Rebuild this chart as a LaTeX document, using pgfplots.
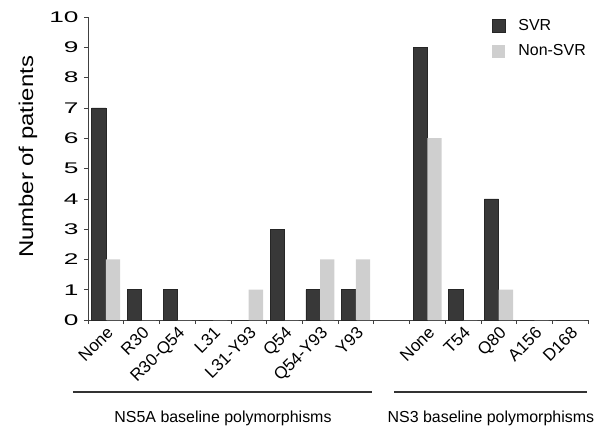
\documentclass[border=0pt]{standalone}
\usepackage{fontspec}
\setmainfont{Liberation Sans}
\newfontfamily\tickfont[FakeStretch=1.7]{Liberation Sans}
\newfontfamily\labelfont[FakeStretch=1.2]{Liberation Sans}
\usepackage{pgfplots}
\pgfplotsset{compat=1.18}
\definecolor{svr}{HTML}{383838}
\definecolor{nonsvr}{HTML}{CFCFCF}
\begin{document}
\begin{tikzpicture}
\useasboundingbox (0,0) rectangle (597bp,426bp);
\begin{axis}[
  at={(88bp,106bp)}, anchor=south west,
  scale only axis, width=500bp, height=303bp,
  xmin=-0.5, xmax=13.5, ymin=0, ymax=10,
  axis x line*=bottom, axis y line*=left,
  axis line style={black!75, line width=0.8pt},
  tick align=outside,
  ybar=0pt, bar width=0.4,
  xtick={0,1,2,3,4,5,6,7,9,10,11,12,13},
  xticklabels={None,R30,R30-Q54,L31,L31-Y93,Q54,Q54-Y93,Y93,None,T54,Q80,A156,D168},
  major x tick style={draw=none},
  minor xtick={-0.5,0.5,...,13.5},
  minor x tick style={black!75, line width=0.6pt},
  minor tick length=4bp,
  ytick={0,1,...,10},
  major y tick style={black!75, line width=0.6pt},
  major tick length=4bp,
  xticklabel style={rotate=45, anchor=north east, font=\fontsize{17}{17}\selectfont, inner sep=1bp},
  yticklabel style={font=\tickfont\fontsize{15.5}{16}\selectfont, xshift=-2bp},
  /pgf/number format/assume math mode=true,
  ylabel={Number of patients},
  every axis y label/.style={at={(rel axis cs:-0.12,0.538)}, rotate=90, anchor=center, font=\labelfont\fontsize{20}{20}\selectfont},
  legend style={at={(rel axis cs:0.808,1.0)}, anchor=north west, draw=none, fill=none,
    font=\fontsize{16}{16}\selectfont, row sep=9bp, inner sep=0pt},
  legend cell align=left,
  legend image code/.code={\path[#1] (0bp,-6.5bp) rectangle (13bp,6.5bp); \path[draw=none,fill=none] (0bp,0bp) -- (24bp,0bp);},
  clip=false,
]
\addplot[fill=svr, draw=black!85, line width=0.5pt] coordinates {
  (0,7) (1,1) (2,1) (3,0) (4,0) (5,3) (6,1) (7,1)
  (9,9) (10,1) (11,4) (12,0) (13,0)};
\addplot[fill=nonsvr, draw=none] coordinates {
  (0,2) (1,0) (2,0) (3,0) (4,1) (5,0) (6,2) (7,2)
  (9,6) (10,0) (11,1) (12,0) (13,0)};
\legend{SVR, Non-SVR}
\draw[black!80, line width=1.2pt] ([yshift=-72bp]axis cs:-0.92,0) -- ([yshift=-72bp]axis cs:7.45,0);
\draw[black!80, line width=1.2pt] ([yshift=-72bp]axis cs:8.07,0) -- ([yshift=-72bp]axis cs:13.47,0);
\node[font=\fontsize{16}{16}\selectfont] at ([yshift=-98bp]axis cs:3.28,0) {NS5A baseline polymorphisms};
\node[font=\fontsize{16}{16}\selectfont] at ([yshift=-98bp]axis cs:10.78,0) {NS3 baseline polymorphisms};
\end{axis}
\end{tikzpicture}
\end{document}
